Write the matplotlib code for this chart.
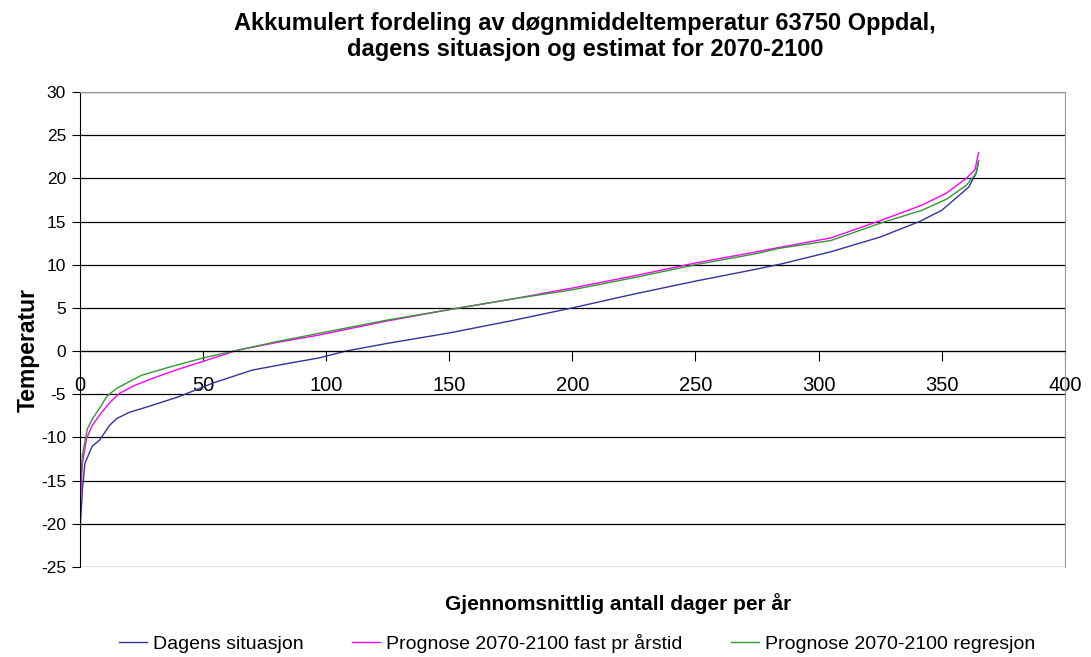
import matplotlib
matplotlib.use('agg')
import matplotlib.pyplot as plt

plt.rcParams['font.family'] = ['Liberation Sans', 'DejaVu Sans']
plt.rcParams['axes.unicode_minus'] = False

# (day, temperature)
dagens_x = [0, 1, 2, 5, 8, 12, 15, 20, 28, 40, 54, 70, 85, 97, 108, 125, 150, 175,
            200, 225, 250, 275, 285, 305, 325, 341, 350, 357, 361, 364, 365]
dagens_y = [-21, -16, -13, -11, -10.3, -8.6, -7.8, -7.1, -6.4, -5.3, -3.7, -2.2, -1.4,
            -0.8, 0, 0.9, 2.1, 3.5, 5, 6.6, 8.1, 9.5, 10.1, 11.5, 13.2, 15, 16.3, 18,
            19, 20.6, 22]

fast_x = [0, 1, 2.7, 5, 8, 12, 16, 22, 30, 40, 50, 64, 80, 97, 125, 150, 175, 200,
          225, 250, 275, 284, 305, 326, 342, 352, 360, 363.5, 365]
fast_y = [-18, -13, -10.1, -8.6, -7.4, -6, -4.9, -4, -3.1, -2.1, -1.2, 0.1, 1, 1.85,
          3.5, 4.8, 6, 7.3, 8.7, 10.2, 11.5, 12.0, 13.1, 15.2, 16.9, 18.3, 20, 21, 23]

regr_x = [0, 1, 3, 5, 8, 11, 15, 25, 37, 50, 64, 80, 97, 125, 150, 175, 200, 225,
          250, 275, 284, 305, 326, 342, 352, 360, 364, 365]
regr_y = [-16, -12, -9, -7.9, -6.6, -5.2, -4.3, -2.8, -1.8, -0.8, 0.1, 1.1, 2.05,
          3.6, 4.8, 6, 7.1, 8.5, 10, 11.3, 11.9, 12.8, 14.9, 16.3, 17.6, 19.2, 20.6, 22]

fig = plt.figure(figsize=(10.91, 6.57), dpi=100)
ax = fig.add_axes([0.0733, 0.137, 0.9027, 0.723])

ax.plot(dagens_x, dagens_y, color='#333399', lw=1, label='Dagens situasjon')
ax.plot(fast_x, fast_y, color='#ff00ff', lw=1, label='Prognose 2070-2100 fast pr årstid')
ax.plot(regr_x, regr_y, color='#339933', lw=1, label='Prognose 2070-2100 regresjon')

ax.set_xlim(0, 400)
ax.set_ylim(-25, 30)
ax.set_xticks(range(0, 401, 50))
ax.set_yticks(range(-25, 31, 5))
ax.yaxis.grid(True, color='black', lw=0.9)
ax.set_axisbelow(True)

ax.spines['bottom'].set_position(('data', 0))
ax.spines['bottom'].set_color('black')
ax.spines['left'].set_color('black')
ax.spines['right'].set_color('#999999')
ax.spines['top'].set_color('#999999')
ax.tick_params(axis='x', direction='out', length=7, pad=11, labelsize=14.5)
ax.tick_params(axis='y', direction='out', length=6, pad=4, labelsize=12.5)

fig.text(0.0257, 0.467, 'Temperatur', rotation=90, ha='center', va='center',
         fontsize=16.5, fontweight='bold')
fig.text(0.5665, 0.082, 'Gjennomsnittlig antall dager per år', ha='center',
         va='center', fontsize=15, fontweight='bold')
fig.text(0.536, 0.9445, 'Akkumulert fordeling av døgnmiddeltemperatur 63750 Oppdal,\n'
         'dagens situasjon og estimat for 2070-2100', ha='center', va='center',
         fontsize=17, fontweight='bold', linespacing=1.15)

fig.legend(loc='center', bbox_to_anchor=(0.529, 0.021), ncol=3, frameon=False,
           fontsize=14, handlelength=1.45, handletextpad=0.3, columnspacing=2.5)

fig.savefig('out.png', dpi=100)
